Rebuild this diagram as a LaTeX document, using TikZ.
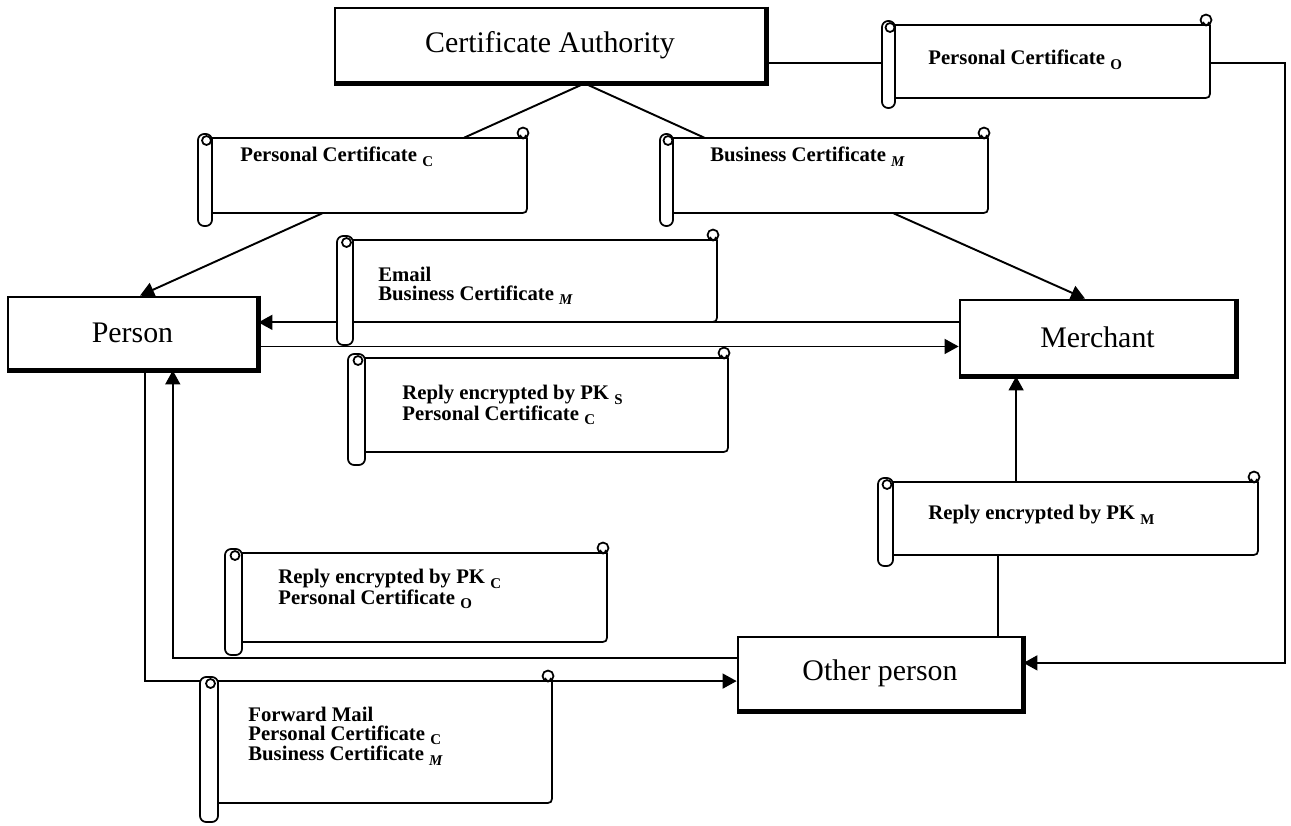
\documentclass[tikz,border=0pt]{standalone}
\usepackage{fontspec}
\setmainfont{Liberation Serif}
\usetikzlibrary{arrows.meta,backgrounds,fit,calc}
\newcommand\sbs[1]{\ \raisebox{-0.45ex}{\fontsize{8.5}{8.5}\selectfont #1}}
\newcommand\scrl[7]{%
  \draw[sl, fill=white] (#3,#5) -- (#4,#5) -- (#4,#6-9) .. controls (#4,#6) .. (#4-9,#6) -- (#3,#6) -- cycle;
  \draw[sl, fill=white] (#4-4,#5-5) circle[radius=5.5];
  \draw[sl] (#4-7,#5-3) .. controls (#4-6,#5+1) and (#4-1,#5+1) .. (#4-1,#5-3);
  \draw[sl, fill=white, rounded corners=3.5pt] (#2,#5-4) rectangle (#3,#7);
  \draw[sl] ({(#2+#3)/2+1.5},{#5+2.5}) circle[radius=4.5];
  \node[fit={(#3,#5) (#4,#6)}, inner sep=0pt] (#1) {};
}
\begin{document}
\begin{tikzpicture}[x=0.02cm,y=-0.02cm,
  sl/.style={line width=1pt, line join=round},
  bx/.style={draw, line width=1.6pt, fill=white, inner sep=0pt, font=\fontsize{17}{20}\selectfont},
  cn/.style={line width=1.1pt},
  ar/.style={cn, -{Triangle[length=8pt,width=8.5pt]}},
  st/.style={font=\bfseries\fontsize{11.8}{10.4}\selectfont, align=left, inner sep=0pt, anchor=north west}
]
\useasboundingbox (0,0) rectangle (1291,825);

% boxes
\node[bx, minimum width=8.6cm, minimum height=1.48cm] (ca) at (550,45) {Certificate Authority};
\node[bx, minimum width=4.98cm, minimum height=1.44cm] (person) at (132.5,333) {Person};
\node[bx, minimum width=5.5cm, minimum height=1.5cm] (merchant) at (1097.5,337.5) {Merchant};
\node[bx, minimum width=5.68cm, minimum height=1.46cm] (other) at (880,673.5) {Other person};
\foreach \n in {ca,person,merchant,other}
  \draw[line width=2.6pt] (\n.north east) -- (\n.south east) -- (\n.south west);

% scrolls
\scrl{pco}{882}{895}{1210}{25}{98}{108}
\scrl{pcc}{198}{212}{527}{138}{213}{226}
\scrl{bcm}{660}{673}{988}{138}{213}{226}
\scrl{eml}{337}{353}{717}{240}{322}{345}
\scrl{rps}{348}{365}{728}{358}{452}{465}
\scrl{rpm}{878}{893}{1258}{482}{555}{566}
\scrl{rpc}{225}{242}{607}{553}{642}{655}
\scrl{fwd}{200}{218}{552}{681}{803}{822}

% scroll texts
\node[st] (tpco) at (928,50) {Personal Certificate\sbs{O}};
\node[st] (tpcc) at (240,147) {Personal Certificate\sbs{C}};
\node[st] (tbcm) at (710,147) {Business Certificate\sbs{\textit{M}}};
\node[st] (teml) at (378,267) {Email\\Business Certificate\sbs{\textit{M}}};
\node[st] (trps) at (402,385) {Reply encrypted by PK\sbs{S}\\Personal Certificate\sbs{C}};
\node[st] (trpm) at (928,505) {Reply encrypted by PK\sbs{M}};
\node[st] (trpc) at (278,569) {Reply encrypted by PK\sbs{C}\\Personal Certificate\sbs{O}};
\node[st] (tfwd) at (248,707) {Forward Mail\\Personal Certificate\sbs{C}\\Business Certificate\sbs{\textit{M}}};

% connectors
\begin{pgfonlayer}{background}
\coordinate (apex) at ($(ca.south west)!0.58!(ca.south east)$);
\draw[cn] (apex) -- ($(pcc.north west)!0.80!(pcc.north east)$);
\draw[cn] (apex) -- ($(bcm.north west)!0.10!(bcm.north east)$);
\draw[ar] ($(pcc.south west)!0.35!(pcc.south east)$) -- ($(person.north west)!0.53!(person.north east)$);
\draw[ar] ($(bcm.south west)!0.70!(bcm.south east)$) -- ($(merchant.north west)!0.455!(merchant.north east)$);
\coordinate (cr) at ($(ca.north east)!0.73!(ca.south east)$);
\coordinate (rside) at (1285,0);
\coordinate (oe) at ($(other.north east)!0.36!(other.south east)$);
\draw[ar] (cr) -| (rside |- oe) -- (oe);
\draw[ar] (merchant.west |- eml.south) -- (person.east |- eml.south);
\coordinate (pm) at ($(person.north east)!0.68!(person.south east)$);
\draw[ar] (pm) -- (pm -| merchant.west);
\coordinate (ot) at ($(other.north west)!0.912!(other.north east)$);
\coordinate (mb) at ($(merchant.south west)!0.207!(merchant.south east)$);
\draw[ar] (ot) -- (ot |- rpm.center) -- (mb |- rpm.center) -- (mb);
\coordinate (pin) at ($(person.south west)!0.66!(person.south east)$);
\coordinate (pout) at ($(person.south west)!0.55!(person.south east)$);
\coordinate (oin) at ($(other.north west)!0.30!(other.south west)$);
\coordinate (oout) at ($(other.north west)!0.60!(other.south west)$);
\draw[ar] (oin) -| (pin);
\draw[ar] (pout) |- (oout);
\end{pgfonlayer}
\end{tikzpicture}
\end{document}
